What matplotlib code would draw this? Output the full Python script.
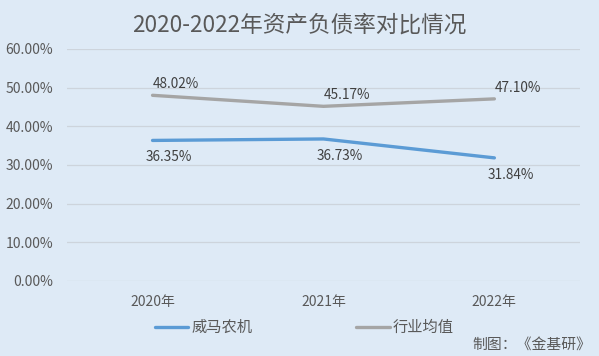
import matplotlib
matplotlib.use("Agg")
import matplotlib.pyplot as plt
from matplotlib.ticker import PercentFormatter

plt.rcParams['font.family'] = ['Noto Sans CJK SC', 'DejaVu Sans']

years = ['2020年', '2021年', '2022年']
weima = [36.35, 36.73, 31.84]
industry = [48.02, 45.17, 47.10]
series_names = ['威马农机', '行业均值']

bg = '#DEEAF6'
text_color = '#595959'
blue = '#5B9BD5'
gray = '#A5A5A5'

fig = plt.figure(figsize=(5.99, 3.56), dpi=100, facecolor=bg)
ax = fig.add_axes([0.112, 0.2107, 0.856, 0.6517])
ax.set_facecolor(bg)

x = range(len(years))
ax.plot(x, weima, color=blue, lw=2.4, solid_capstyle='round', label=series_names[0])
ax.plot(x, industry, color=gray, lw=2.4, solid_capstyle='round', label=series_names[1])

# data labels
for i, v in enumerate(industry):
    ax.annotate(f'{v:.2f}%', (i, v), xytext=(17, 8), textcoords='offset points',
                ha='center', va='center', fontsize=9.8, color='#404040')
for i, v in enumerate(weima):
    ax.annotate(f'{v:.2f}%', (i, v), xytext=(12, -12), textcoords='offset points',
                ha='center', va='center', fontsize=9.8, color='#404040')

ax.set_xlim(-0.5, 2.5)
ax.set_ylim(0, 60)
ax.set_yticks(range(0, 61, 10))
ax.yaxis.set_major_formatter(PercentFormatter(decimals=2))
ax.set_xticks(list(x))
ax.set_xticklabels(years)
ax.tick_params(axis='both', length=0, colors=text_color, labelsize=10)
ax.tick_params(axis='y', pad=10)
ax.tick_params(axis='x', pad=10)
ax.grid(axis='y', color='#CDD4DC', lw=0.9)
ax.set_axisbelow(True)
for s in ax.spines.values():
    s.set_visible(False)

fig.text(0.5, 0.93, '2020-2022年资产负债率对比情况', ha='center', va='center',
         fontsize=16.3, color=text_color)

fig.legend(loc='center', bbox_to_anchor=(0.508, 0.08), ncol=2, frameon=False,
           fontsize=11, labelcolor=text_color, handlelength=2.2, handletextpad=0.2,
           columnspacing=6.8)

fig.text(0.789, 0.033, '制图：《金基研》', ha='left', va='center', fontsize=10.7,
         color=text_color)

fig.savefig('out.png', dpi=100, facecolor=bg)
